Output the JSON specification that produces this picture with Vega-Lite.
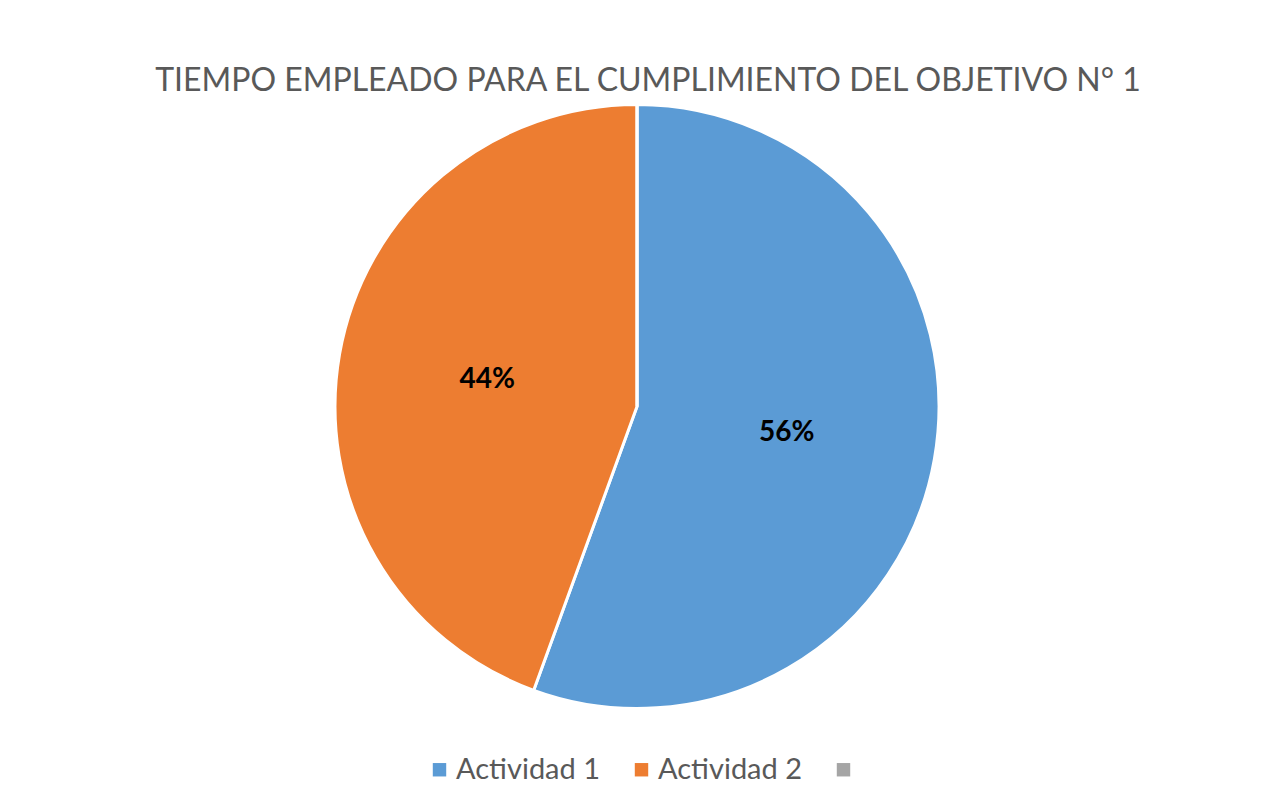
{
  "$schema": "https://vega.github.io/schema/vega-lite/v6.json",
  "width": 1262,
  "height": 801,
  "autosize": {"type": "none"},
  "padding": {"left": 6, "top": 6, "right": 0, "bottom": 0},
  "background": "white",
  "config": {
    "view": {"stroke": "#D9D9D9", "strokeWidth": 2},
    "font": "Lato"
  },
  "title": {
    "text": "TIEMPO EMPLEADO PARA EL CUMPLIMIENTO DEL OBJETIVO N° 1",
    "font": "Lato",
    "fontSize": 32,
    "fontWeight": "normal",
    "color": "#595959",
    "anchor": "middle",
    "frame": "group",
    "baseline": "alphabetic",
    "offset": -117,
    "dx": 11
  },
  "data": {
    "values": [
      {"actividad": "Actividad 1", "dias": 5},
      {"actividad": "Actividad 2", "dias": 4},
      {"actividad": "S3", "dias": 0}
    ]
  },
  "transform": [
    {"joinaggregate": [{"op": "sum", "field": "dias", "as": "total"}]},
    {"calculate": "datum.dias / datum.total", "as": "pct"}
  ],
  "encoding": {
    "theta": {"field": "dias", "type": "quantitative", "stack": true},
    "order": {"field": "actividad", "type": "nominal", "sort": "ascending"},
    "color": {
      "field": "actividad",
      "type": "nominal",
      "scale": {
        "domain": ["Actividad 1", "Actividad 2", "S3"],
        "range": ["#5B9BD5", "#ED7D31", "#A5A5A5"]
      },
      "legend": {
        "title": null,
        "orient": "none",
        "direction": "horizontal",
        "legendX": 419,
        "legendY": 749,
        "symbolType": "square",
        "symbolSize": 180,
        "symbolStrokeWidth": 0,
        "labelFont": "Lato",
        "labelFontSize": 29,
        "labelColor": "#595959",
        "labelOffset": 2,
        "columnPadding": 26,
        "labelExpr": "datum.label == 'S3' ? '' : datum.label"
      }
    }
  },
  "layer": [
    {
      "mark": {"type": "arc", "outerRadius": 302, "stroke": "white", "strokeWidth": 3}
    },
    {
      "mark": {"type": "text", "radius": 152, "font": "Lato", "fontSize": 28, "fontWeight": "bold"},
      "encoding": {
        "text": {"condition": {"test": "datum.dias > 0", "field": "pct", "type": "quantitative", "format": ".0%"}, "value": ""},
        "fill": {"value": "black"}
      }
    }
  ]
}
